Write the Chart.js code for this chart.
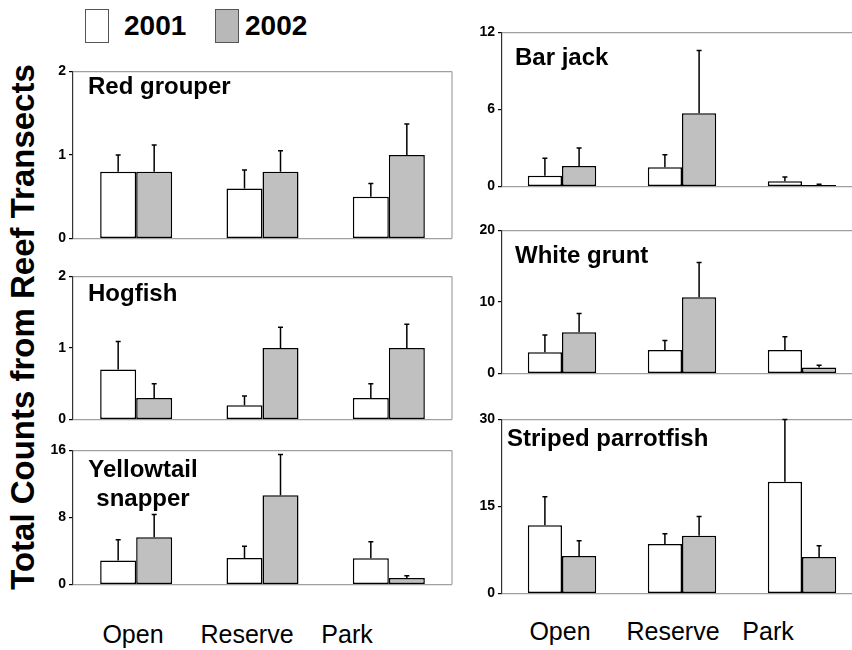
<!DOCTYPE html>
<html>
<head>
<meta charset="utf-8">
<script src="https://cdn.jsdelivr.net/npm/chart.js@4"></script>
<style>
  html, body { margin: 0; padding: 0; background: #fff; overflow: hidden; width: 852px; height: 650px; }
  body { position: relative; font-family: 'Liberation Sans', Arial, sans-serif; }
  canvas { position: absolute; }
  .lbl { position: absolute; color: #000; white-space: nowrap; }
  .cat { font-size: 25px; transform: translateX(-50%); line-height: 1; }
  .key { position: absolute; width: 22px; height: 32px; border: 1px solid #555; }
  .year { font-size: 28px; font-weight: bold; line-height: 1; }
  .ytitle { font-size: 33px; font-weight: bold; line-height: 1; transform: translate(-50%, -50%) rotate(-90deg); }
</style>
</head>
<body>
<script>
// data
const categories = ['Open', 'Reserve', 'Park'];
const years = ['2001', '2002'];
const species = [['Red grouper'], ['Hogfish'], ['Yellowtail', 'snapper'], ['Bar jack'], ['White grunt'], ['Striped parrotfish']];
const yMax = [2, 2, 16, 12, 20, 30];
const yStep = [1, 1, 8, 6, 10, 15];

const mean2001 = [
  [0.8, 0.6, 0.5],
  [0.7, 0.2, 0.3],
  [2.87, 3.16, 3.13],
  [0.84, 1.51, 0.41],
  [2.98, 3.28, 3.28],
  [11.76, 8.56, 19.25]
];
const upper2001 = [
  [1.0, 0.82, 0.66],
  [1.09, 0.33, 0.5],
  [5.35, 4.58, 5.1],
  [2.2, 2.47, 0.74],
  [5.4, 4.64, 5.15],
  [16.68, 10.32, 30]
];
const mean2002 = [
  [0.8, 0.8, 1.0],
  [0.3, 1.0, 1.0],
  [5.64, 10.65, 0.8],
  [1.6, 5.71, 0.12],
  [5.79, 10.68, 0.85],
  [6.47, 9.95, 6.31]
];
const upper2002 = [
  [1.12, 1.05, 1.37],
  [0.5, 1.29, 1.33],
  [8.36, 15.5, 1.05],
  [3.0, 10.6, 0.19],
  [8.38, 15.5, 1.15],
  [9.09, 13.26, 8.24]
];

// layout of each panel's plot area (left, top, width, height) and title offset
const panels = [
  { left: 73, top: 68, w: 379, h: 180, tx: 15, ty: 23, align: 'left', box: true },
  { left: 73, top: 273, w: 379, h: 156, tx: 15, ty: 25, align: 'left', box: true },
  { left: 73, top: 447, w: 379, h: 147, tx: 70, ty: 27, align: 'center', box: true },
  { left: 502, top: 29, w: 360, h: 167, tx: 13, ty: 33, align: 'left', box: false },
  { left: 502, top: 227, w: 360, h: 156, tx: 13, ty: 33, align: 'left', box: false },
  { left: 502, top: 416, w: 360, h: 187, tx: 5, ty: 27, align: 'left', box: false }
];

const FONT = "'Liberation Sans', Arial, sans-serif";
const AXIS_W = 30, PAD_T = 8, PAD_B = 2, PAD_R = 3;

const errorBars = {
  id: 'errorBars',
  afterDatasetsDraw(chart) {
    const ctx = chart.ctx, y = chart.scales.y;
    ctx.save();
    ctx.strokeStyle = '#000';
    ctx.lineWidth = 1.5;
    chart.data.datasets.forEach((ds, di) => {
      chart.getDatasetMeta(di).data.forEach((bar, j) => {
        const yt = y.getPixelForValue(ds.upper[j]);
        ctx.beginPath();
        ctx.moveTo(bar.x, bar.y);
        ctx.lineTo(bar.x, yt);
        ctx.moveTo(bar.x - 2.5, yt);
        ctx.lineTo(bar.x + 2.5, yt);
        ctx.stroke();
      });
    });
    ctx.restore();
  }
};

const panelDeco = {
  id: 'panelDeco',
  afterDraw(chart, args, o) {
    const ctx = chart.ctx, a = chart.chartArea;
    ctx.save();
    if (o.box) {
      ctx.strokeStyle = '#a0a0a0';
      ctx.lineWidth = 1.2;
      ctx.beginPath();
      ctx.moveTo(a.right, a.top);
      ctx.lineTo(a.right, a.bottom);
      ctx.stroke();
    }
    ctx.fillStyle = '#000';
    ctx.font = 'bold 24px ' + FONT;
    ctx.textAlign = o.align;
    ctx.textBaseline = 'alphabetic';
    o.lines.forEach((t, k) => ctx.fillText(t, a.left + o.tx, a.top + o.ty + k * 29));
    ctx.restore();
  }
};

panels.forEach((p, i) => {
  const cv = document.createElement('canvas');
  const cw = AXIS_W + p.w + PAD_R, ch = PAD_T + p.h + PAD_B;
  cv.width = cw; cv.height = ch;
  cv.style.left = (p.left - AXIS_W) + 'px';
  cv.style.top = (p.top - PAD_T) + 'px';
  cv.style.width = cw + 'px'; cv.style.height = ch + 'px';
  document.body.appendChild(cv);
  const max = yMax[i];
  new Chart(cv, {
    type: 'bar',
    data: {
      labels: categories,
      datasets: [
        { label: years[0], data: mean2001[i], upper: upper2001[i], backgroundColor: '#ffffff' },
        { label: years[1], data: mean2002[i], upper: upper2002[i], backgroundColor: '#c0c0c0' }
      ]
    },
    options: {
      responsive: false,
      animation: false,
      devicePixelRatio: 1,
      layout: { padding: { top: PAD_T, bottom: PAD_B, right: PAD_R, left: 0 } },
      datasets: {
        bar: { borderColor: '#000', borderWidth: 1.5, borderSkipped: false, barPercentage: 1, categoryPercentage: 0.57 }
      },
      scales: {
        x: { display: false, offset: true },
        y: {
          min: 0, max: max,
          ticks: { stepSize: yStep[i], color: '#000', padding: 3, font: { family: FONT, size: 14, weight: 'bold' } },
          grid: {
            color: c => (c.tick && (c.tick.value === 0 || c.tick.value === max)) ? '#a0a0a0' : 'rgba(0,0,0,0)',
            tickColor: '#000', tickLength: 4, lineWidth: 1.2
          },
          border: { color: '#333', width: 1.2 },
          afterFit: s => { s.width = AXIS_W; }
        }
      },
      plugins: {
        legend: { display: false },
        tooltip: { enabled: false },
        panelDeco: { lines: species[i], tx: p.tx, ty: p.ty, align: p.align, box: p.box }
      }
    },
    plugins: [errorBars, panelDeco]
  });
});

// category labels below the bottom panels
const catX = [[133, 247, 347], [560, 673, 768]];
const catTop = [622, 619];
catX.forEach((xs, c) => xs.forEach((x, k) => {
  const d = document.createElement('div');
  d.className = 'lbl cat';
  d.textContent = categories[k];
  d.style.left = x + 'px';
  d.style.top = catTop[c] + 'px';
  document.body.appendChild(d);
}));

// legend
const keyX = [85, 215], keyFill = ['#ffffff', '#b8b8b8'], yearX = [124, 245];
years.forEach((yr, k) => {
  const b = document.createElement('div');
  b.className = 'key';
  b.style.left = keyX[k] + 'px'; b.style.top = '9px'; b.style.background = keyFill[k];
  document.body.appendChild(b);
  const t = document.createElement('div');
  t.className = 'lbl year';
  t.textContent = yr;
  t.style.left = yearX[k] + 'px'; t.style.top = '12px';
  document.body.appendChild(t);
});

// y axis title
const yt = document.createElement('div');
yt.className = 'lbl ytitle';
yt.textContent = 'Total Counts from Reef Transects';
yt.style.left = '22px'; yt.style.top = '327px';
document.body.appendChild(yt);
</script>
</body>
</html>
